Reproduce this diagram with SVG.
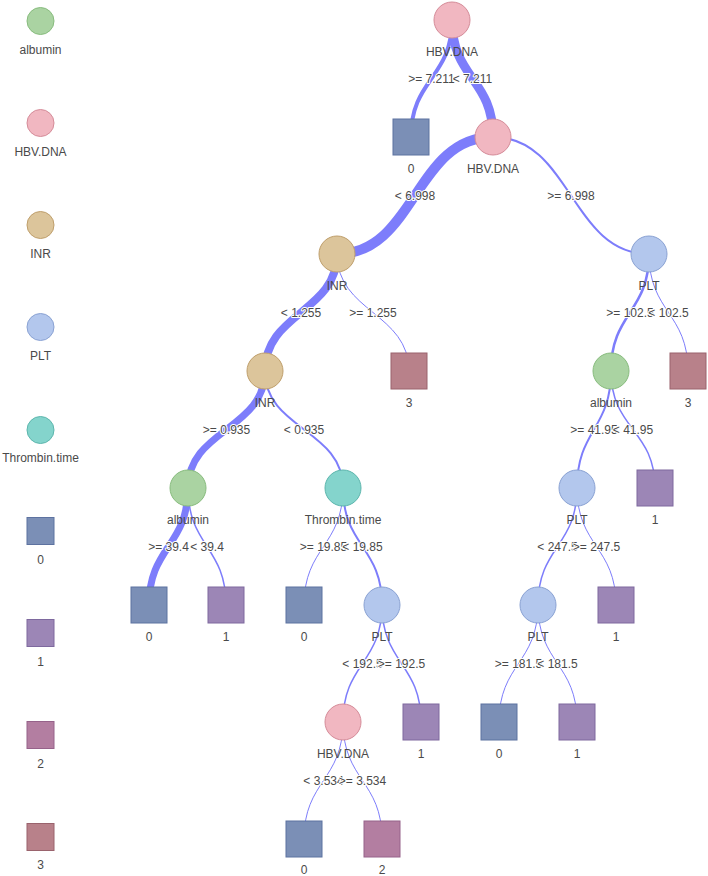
<svg xmlns="http://www.w3.org/2000/svg" width="708" height="876" viewBox="0 0 708 876">
<style>
text{font-family:"Liberation Sans",Arial,sans-serif;font-size:12px;fill:#4a4a4a;text-anchor:middle}
.el{paint-order:stroke;stroke:#fff;stroke-width:2px;stroke-linejoin:round}
.e{fill:none;stroke:#7d7dfb;stroke-linecap:round}
.alb{fill:#aad3a2;stroke:#88bc7e;stroke-width:1}
.hbv{fill:#f1b7c1;stroke:#d58c99;stroke-width:1}
.inr{fill:#dcc59b;stroke:#bf9f6c;stroke-width:1}
.plt{fill:#b3c7ed;stroke:#8aa2d3;stroke-width:1}
.thr{fill:#84d4cc;stroke:#5db6ad;stroke-width:1}
.c0{fill:#7b8fb6;stroke:#5d72a0;stroke-width:1}
.c1{fill:#9c86b6;stroke:#7e699e;stroke-width:1}
.c2{fill:#b37ea1;stroke:#96628a;stroke-width:1}
.c3{fill:#b8818a;stroke:#9a636d;stroke-width:1}
</style>
<rect width="708" height="876" fill="#fff"/>
<g id="legend">
<g id="leg-albumin"><circle class="alb" cx="40.5" cy="21" r="13.5"/><text x="40.5" y="54">albumin</text></g>
<g id="leg-hbv"><circle class="hbv" cx="40.5" cy="123" r="13.5"/><text x="40.5" y="156">HBV.DNA</text></g>
<g id="leg-inr"><circle class="inr" cx="40.5" cy="225" r="13.5"/><text x="40.5" y="258">INR</text></g>
<g id="leg-plt"><circle class="plt" cx="40.5" cy="327" r="13.5"/><text x="40.5" y="360">PLT</text></g>
<g id="leg-thr"><circle class="thr" cx="40.5" cy="430" r="13.5"/><text x="40.5" y="462">Thrombin.time</text></g>
<g id="leg-0"><rect class="c0" x="27" y="517.5" width="27" height="27"/><text x="40.5" y="564">0</text></g>
<g id="leg-1"><rect class="c1" x="27" y="619.5" width="27" height="27"/><text x="40.5" y="666">1</text></g>
<g id="leg-2"><rect class="c2" x="27" y="721.5" width="27" height="27"/><text x="40.5" y="768">2</text></g>
<g id="leg-3"><rect class="c3" x="27" y="823.5" width="27" height="27"/><text x="40.5" y="869">3</text></g>
</g>
<g id="edges">
<path class="e" stroke-width="4" d="M452 20 C452 78.5 411 78.5 411 137"/>
<path class="e" stroke-width="9" d="M452 20 C452 78.5 493 78.5 493 137"/>
<path class="e" stroke-width="10" d="M493 137 C415 137 415 254 337 254"/>
<path class="e" stroke-width="2" d="M493 137 C571 137 571 254 649 254"/>
<path class="e" stroke-width="8" d="M337 254 C337 312.5 265 312.5 265 371"/>
<path class="e" stroke-width="1" d="M337 254 C337 312.5 409 312.5 409 371"/>
<path class="e" stroke-width="2.5" d="M649 254 C649 312.5 611 312.5 611 371"/>
<path class="e" stroke-width="1" d="M649 254 C649 312.5 688 312.5 688 371"/>
<path class="e" stroke-width="7" d="M265 371 C265 429.5 188 429.5 188 488"/>
<path class="e" stroke-width="2" d="M265 371 C265 429.5 343 429.5 343 488"/>
<path class="e" stroke-width="2" d="M611 371 C611 429.5 577 429.5 577 488"/>
<path class="e" stroke-width="1.5" d="M611 371 C611 429.5 655 429.5 655 488"/>
<path class="e" stroke-width="7" d="M188 488 C188 546.5 149 546.5 149 605"/>
<path class="e" stroke-width="1.5" d="M188 488 C188 546.5 226 546.5 226 605"/>
<path class="e" stroke-width="1" d="M343 488 C343 546.5 304 546.5 304 605"/>
<path class="e" stroke-width="2" d="M343 488 C343 546.5 382 546.5 382 605"/>
<path class="e" stroke-width="1.5" d="M577 488 C577 546.5 538 546.5 538 605"/>
<path class="e" stroke-width="1" d="M577 488 C577 546.5 616 546.5 616 605"/>
<path class="e" stroke-width="1.5" d="M382 605 C382 663.5 343 663.5 343 722"/>
<path class="e" stroke-width="1.5" d="M382 605 C382 663.5 421 663.5 421 722"/>
<path class="e" stroke-width="1" d="M538 605 C538 663.5 499 663.5 499 722"/>
<path class="e" stroke-width="1" d="M538 605 C538 663.5 577 663.5 577 722"/>
<path class="e" stroke-width="1" d="M343 722 C343 780.5 304 780.5 304 839"/>
<path class="e" stroke-width="1" d="M343 722 C343 780.5 382 780.5 382 839"/>
<g id="edge-labels">
<text class="el" x="431.5" y="82.5">&gt;= 7.211</text>
<text class="el" x="472.5" y="82.5">&lt; 7.211</text>
<text class="el" x="415" y="199.5">&lt; 6.998</text>
<text class="el" x="571" y="199.5">&gt;= 6.998</text>
<text class="el" x="301" y="316.5">&lt; 1.255</text>
<text class="el" x="373" y="316.5">&gt;= 1.255</text>
<text class="el" x="630" y="316.5">&gt;= 102.5</text>
<text class="el" x="668.5" y="316.5">&lt; 102.5</text>
<text class="el" x="226.5" y="433.5">&gt;= 0.935</text>
<text class="el" x="304" y="433.5">&lt; 0.935</text>
<text class="el" x="594" y="433.5">&gt;= 41.95</text>
<text class="el" x="633" y="433.5">&lt; 41.95</text>
<text class="el" x="168.5" y="550.5">&gt;= 39.4</text>
<text class="el" x="207" y="550.5">&lt; 39.4</text>
<text class="el" x="323.5" y="550.5">&gt;= 19.85</text>
<text class="el" x="362.5" y="550.5">&lt; 19.85</text>
<text class="el" x="557.5" y="550.5">&lt; 247.5</text>
<text class="el" x="596.5" y="550.5">&gt;= 247.5</text>
<text class="el" x="362.5" y="667.5">&lt; 192.5</text>
<text class="el" x="401.5" y="667.5">&gt;= 192.5</text>
<text class="el" x="518.5" y="667.5">&gt;= 181.5</text>
<text class="el" x="557.5" y="667.5">&lt; 181.5</text>
<text class="el" x="323.5" y="784.5">&lt; 3.534</text>
<text class="el" x="362.5" y="784.5">&gt;= 3.534</text>
</g>
</g>
<g id="n-root"><circle class="hbv" cx="452" cy="20" r="18"/><text x="452" y="56">HBV.DNA</text></g>
<g id="n-leaf-a"><rect class="c0" x="393" y="119" width="36" height="36"/><text x="411" y="173">0</text></g>
<g id="n-hbv2"><circle class="hbv" cx="493" cy="137" r="18"/><text x="493" y="173">HBV.DNA</text></g>
<g id="n-inr1"><circle class="inr" cx="337" cy="254" r="18"/><text x="337" y="290">INR</text></g>
<g id="n-plt1"><circle class="plt" cx="649" cy="254" r="18"/><text x="649" y="290">PLT</text></g>
<g id="n-inr2"><circle class="inr" cx="265" cy="371" r="18"/><text x="265" y="407">INR</text></g>
<g id="n-leaf-b"><rect class="c3" x="391" y="353" width="36" height="36"/><text x="409" y="407">3</text></g>
<g id="n-alb2"><circle class="alb" cx="611" cy="371" r="18"/><text x="611" y="407">albumin</text></g>
<g id="n-leaf-c"><rect class="c3" x="670" y="353" width="36" height="36"/><text x="688" y="407">3</text></g>
<g id="n-alb1"><circle class="alb" cx="188" cy="488" r="18"/><text x="188" y="524">albumin</text></g>
<g id="n-thr"><circle class="thr" cx="343" cy="488" r="18"/><text x="343" y="524">Thrombin.time</text></g>
<g id="n-plt2"><circle class="plt" cx="577" cy="488" r="18"/><text x="577" y="524">PLT</text></g>
<g id="n-leaf-d"><rect class="c1" x="637" y="470" width="36" height="36"/><text x="655" y="524">1</text></g>
<g id="n-leaf-e"><rect class="c0" x="131" y="587" width="36" height="36"/><text x="149" y="641">0</text></g>
<g id="n-leaf-f"><rect class="c1" x="208" y="587" width="36" height="36"/><text x="226" y="641">1</text></g>
<g id="n-leaf-g"><rect class="c0" x="286" y="587" width="36" height="36"/><text x="304" y="641">0</text></g>
<g id="n-plt3"><circle class="plt" cx="382" cy="605" r="18"/><text x="382" y="641">PLT</text></g>
<g id="n-plt4"><circle class="plt" cx="538" cy="605" r="18"/><text x="538" y="641">PLT</text></g>
<g id="n-leaf-h"><rect class="c1" x="598" y="587" width="36" height="36"/><text x="616" y="641">1</text></g>
<g id="n-hbv3"><circle class="hbv" cx="343" cy="722" r="18"/><text x="343" y="758">HBV.DNA</text></g>
<g id="n-leaf-i"><rect class="c1" x="403" y="704" width="36" height="36"/><text x="421" y="758">1</text></g>
<g id="n-leaf-j"><rect class="c0" x="481" y="704" width="36" height="36"/><text x="499" y="758">0</text></g>
<g id="n-leaf-k"><rect class="c1" x="559" y="704" width="36" height="36"/><text x="577" y="758">1</text></g>
<g id="n-leaf-l"><rect class="c0" x="286" y="821" width="36" height="36"/><text x="304" y="874">0</text></g>
<g id="n-leaf-m"><rect class="c2" x="364" y="821" width="36" height="36"/><text x="382" y="874">2</text></g>
</svg>
